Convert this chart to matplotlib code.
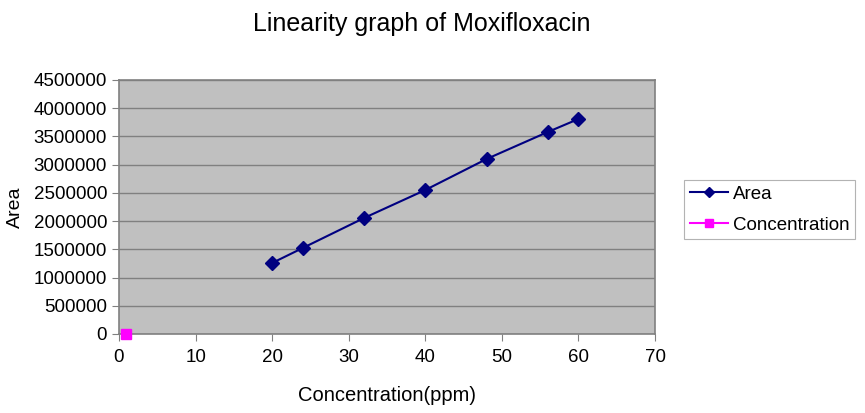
import matplotlib
matplotlib.use('Agg')
import matplotlib.pyplot as plt

plt.rcParams['font.family'] = ['Liberation Sans', 'DejaVu Sans']

# data
conc = [20, 24, 32, 40, 48, 56, 60]
area = [1258000, 1524000, 2055000, 2551000, 3100000, 3579000, 3809000]
conc_series_x = [0.9]
conc_series_y = [0]
x_ticks = [0, 10, 20, 30, 40, 50, 60, 70]
y_ticks = [0, 500000, 1000000, 1500000, 2000000, 2500000, 3000000, 3500000, 4000000, 4500000]

fig = plt.figure(figsize=(8.65, 4.13), dpi=100)
ax = fig.add_axes([119 / 865, 79 / 413, 536 / 865, 254 / 413])
ax.set_facecolor('#c0c0c0')

ax.plot(conc, area, color='#000080', marker='D', markersize=7, linewidth=1.5,
        label='Area', zorder=3)
ax.plot(conc_series_x, conc_series_y, color='#ff00ff', marker='s', markersize=7,
        linewidth=1.5, label='Concentration', zorder=4, clip_on=False)

ax.set_xlim(0, 70)
ax.set_ylim(0, 4500000)
ax.set_xticks(x_ticks)
ax.set_yticks(y_ticks)
ax.set_yticklabels([str(v) for v in y_ticks])
ax.grid(True, axis='y', color='#808080', linewidth=1)
ax.set_axisbelow(True)

for side in ['left', 'bottom', 'right', 'top']:
    ax.spines[side].set_color('#808080')
    ax.spines[side].set_linewidth(1.2)

ax.tick_params(axis='both', colors='#808080', labelcolor='black', labelsize=13.5,
               length=5, direction='out')
ax.tick_params(axis='x', pad=6)

ax.set_xlabel('Concentration(ppm)', fontsize=14.5, labelpad=14)
ax.set_ylabel('Area', fontsize=14, labelpad=7)
fig.suptitle('Linearity graph of Moxifloxacin', fontsize=18, y=0.97, x=0.487)

leg = ax.legend(loc='center left', bbox_to_anchor=(1.055, 0.49), fontsize=13.5,
                frameon=True, fancybox=False, edgecolor='#a0a0a0',
                borderpad=0.3, handlelength=2.0, labelspacing=0.75, handletextpad=0.3,
                borderaxespad=0, markerscale=0.8)
leg.get_frame().set_linewidth(0.8)

plt.savefig('out.png', dpi=100)
